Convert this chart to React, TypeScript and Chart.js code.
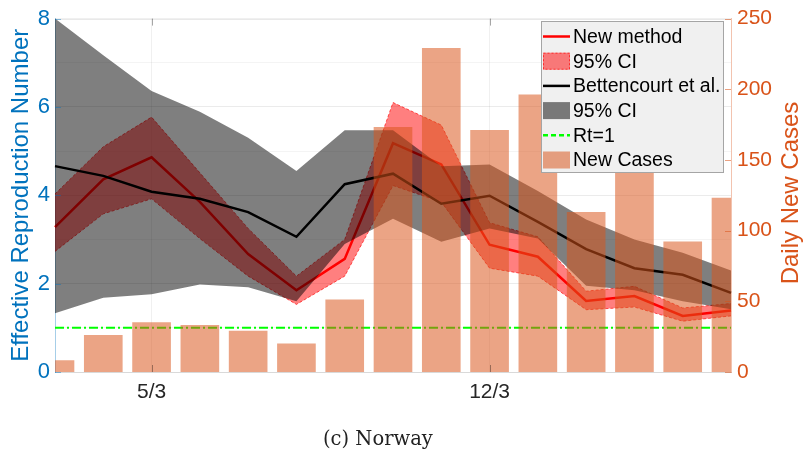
import React, { useEffect, useRef } from 'react';
import { Chart, registerables } from 'chart.js';

Chart.register(...registerables);

// ---- data ----
const dates = ['3/3', '4/3', '5/3', '6/3', '7/3', '8/3', '9/3', '10/3', '11/3', '12/3', '13/3', '14/3', '15/3', '16/3', '17/3'];
const shownDateTicks = ['5/3', '12/3'];
const newCases = [8, 26, 35, 33, 29, 20, 51, 173, 229, 171, 196, 113, 155, 92, 123];
const rNewMethod = [3.28, 4.36, 4.86, 3.85, 2.67, 1.85, 2.56, 5.18, 4.70, 2.88, 2.61, 1.61, 1.72, 1.27, 1.39];
const rNewUpper = [4.03, 5.10, 5.77, 4.51, 3.25, 2.17, 3.00, 6.10, 5.59, 3.38, 3.06, 1.83, 1.94, 1.45, 1.55];
const rNewLower = [2.73, 3.58, 3.92, 3.02, 2.17, 1.53, 2.17, 4.22, 3.85, 2.35, 2.17, 1.41, 1.47, 1.15, 1.27];
const rBettencourt = [4.66, 4.44, 4.08, 3.92, 3.62, 3.06, 4.25, 4.49, 3.81, 3.99, 3.40, 2.78, 2.35, 2.20, 1.79];
const rBettUpper = [8.00, 7.17, 6.36, 5.89, 5.30, 4.55, 5.47, 5.47, 4.66, 4.70, 4.10, 3.45, 3.00, 2.70, 2.30];
const rBettLower = [1.33, 1.68, 1.76, 1.98, 1.92, 1.60, 2.90, 3.47, 2.95, 3.25, 3.02, 1.95, 1.85, 1.60, 1.42];
const rtOne = [1, 1, 1, 1, 1, 1, 1, 1, 1, 1, 1, 1, 1, 1, 1];
const leftTickLabels = [0, 2, 4, 6, 8];
const rightTickLabels = [0, 50, 100, 150, 200, 250];

const FONT = '"Liberation Sans", Arial, Helvetica, sans-serif';
const BLUE = 'rgb(0,114,189)';
const ORANGE = 'rgb(217,83,25)';
const RED_FILL = 'rgba(255,0,0,0.5)';
const GRAY_FILL = 'rgba(0,0,0,0.5)';
const BAR_FILL = 'rgba(217,83,25,0.53)';
const GREEN = 'rgb(0,255,0)';

type LegendEntry = { ds: number; kind: 'line' | 'patch' | 'dashedPatch' | 'dashLine' };
const legendEntries: LegendEntry[] = [
  { ds: 0, kind: 'line' },
  { ds: 1, kind: 'dashedPatch' },
  { ds: 3, kind: 'line' },
  { ds: 4, kind: 'patch' },
  { ds: 6, kind: 'dashLine' },
  { ds: 7, kind: 'patch' },
];

const decorPlugin = {
  id: 'decor',
  afterDatasetsDraw(chart: any) {
    const { ctx, chartArea } = chart;
    const { left, right, top, bottom } = chartArea;
    const x = chart.scales.x;
    const y = chart.scales.y;
    const y1 = chart.scales.y1;
    ctx.save();
    // top border
    ctx.strokeStyle = 'rgba(0,0,0,0.15)';
    ctx.lineWidth = 1;
    ctx.beginPath();
    ctx.moveTo(left, top + 0.5);
    ctx.lineTo(right, top + 0.5);
    ctx.stroke();
    // x tick marks (bottom and top)
    ctx.strokeStyle = 'rgba(0,0,0,0.35)';
    dates.forEach((d, i) => {
      if (!shownDateTicks.includes(d)) return;
      const px = Math.round(x.getPixelForValue(i)) + 0.5;
      ctx.beginPath();
      ctx.moveTo(px, bottom);
      ctx.lineTo(px, bottom - 7);
      ctx.moveTo(px, top);
      ctx.lineTo(px, top + 7);
      ctx.stroke();
    });
    // left ticks
    ctx.strokeStyle = 'rgba(0,114,189,0.45)';
    leftTickLabels.forEach((v) => {
      const py = Math.round(y.getPixelForValue(v)) + 0.5;
      ctx.beginPath();
      ctx.moveTo(left, py);
      ctx.lineTo(left + 6, py);
      ctx.stroke();
    });
    // right ticks
    ctx.strokeStyle = 'rgba(217,83,25,0.55)';
    rightTickLabels.forEach((v) => {
      const py = Math.round(y1.getPixelForValue(v)) + 0.5;
      ctx.beginPath();
      ctx.moveTo(right, py);
      ctx.lineTo(right - 6, py);
      ctx.stroke();
    });
    ctx.restore();
  },
  afterDraw(chart: any) {
    const { ctx } = chart;
    ctx.save();
    // right axis title, reading bottom to top
    ctx.translate(791, 193);
    ctx.rotate(-Math.PI / 2);
    ctx.fillStyle = ORANGE;
    ctx.font = `24px ${FONT}`;
    ctx.textAlign = 'center';
    ctx.textBaseline = 'middle';
    ctx.fillText('Daily New Cases', 0, 0);
    ctx.restore();

    // legend box
    const bx = 541.5, by = 21.5, bw = 182, bh = 151;
    ctx.save();
    ctx.fillStyle = 'rgb(240,240,240)';
    ctx.fillRect(bx, by, bw, bh);
    ctx.strokeStyle = 'rgb(165,165,165)';
    ctx.lineWidth = 1;
    ctx.strokeRect(bx, by, bw, bh);
    const rowH = 24.7;
    const y0 = 36.5;
    const sx0 = 543, sx1 = 570;
    legendEntries.forEach((e, i) => {
      const ds = chart.data.datasets[e.ds];
      const cy = y0 + i * rowH;
      if (e.kind === 'line') {
        ctx.strokeStyle = ds.borderColor;
        ctx.lineWidth = 2.5;
        ctx.setLineDash([]);
        ctx.beginPath();
        ctx.moveTo(sx0, cy);
        ctx.lineTo(sx1, cy);
        ctx.stroke();
      } else if (e.kind === 'dashLine') {
        ctx.strokeStyle = ds.borderColor;
        ctx.lineWidth = 2.5;
        ctx.setLineDash([5, 3]);
        ctx.beginPath();
        ctx.moveTo(sx0, cy);
        ctx.lineTo(sx1, cy);
        ctx.stroke();
        ctx.setLineDash([]);
      } else {
        ctx.fillStyle = ds.backgroundColor;
        ctx.fillRect(sx0, cy - 8.5, sx1 - sx0, 17);
        if (e.kind === 'dashedPatch') {
          ctx.strokeStyle = 'rgba(255,0,0,0.8)';
          ctx.lineWidth = 0.8;
          ctx.setLineDash([2, 2]);
          ctx.strokeRect(sx0 + 0.5, cy - 8, sx1 - sx0 - 1, 16);
          ctx.setLineDash([]);
        }
      }
      ctx.fillStyle = '#000';
      ctx.font = `19.5px ${FONT}`;
      ctx.textAlign = 'left';
      ctx.textBaseline = 'middle';
      ctx.fillText(ds.label, 573, cy + 1);
    });
    ctx.restore();
  },
};

export default function App() {
  const canvasRef = useRef<HTMLCanvasElement | null>(null);

  useEffect(() => {
    const canvas = canvasRef.current;
    if (!canvas) return;
    const chart = new Chart(canvas, {
      type: 'bar',
      data: {
        labels: dates,
        datasets: [
          {
            type: 'line',
            label: 'New method',
            data: rNewMethod,
            borderColor: 'rgb(255,0,0)',
            borderWidth: 2.5,
            pointRadius: 0,
            fill: false,
            yAxisID: 'y',
            order: 6,
            tension: 0,
          } as any,
          {
            type: 'line',
            label: '95% CI',
            data: rNewUpper,
            borderColor: 'rgba(255,0,0,0.8)',
            borderWidth: 0.8,
            borderDash: [3, 2],
            backgroundColor: RED_FILL,
            pointRadius: 0,
            fill: '+1',
            yAxisID: 'y',
            order: 7,
          } as any,
          {
            type: 'line',
            label: '95% CI lower',
            data: rNewLower,
            borderColor: 'rgba(255,0,0,0.8)',
            borderWidth: 0.8,
            borderDash: [3, 2],
            backgroundColor: RED_FILL,
            pointRadius: 0,
            fill: false,
            yAxisID: 'y',
            order: 7,
          } as any,
          {
            type: 'line',
            label: 'Bettencourt et al.',
            data: rBettencourt,
            borderColor: 'rgb(0,0,0)',
            borderWidth: 2.5,
            pointRadius: 0,
            fill: false,
            yAxisID: 'y',
            order: 4,
          } as any,
          {
            type: 'line',
            label: '95% CI',
            data: rBettUpper,
            borderColor: 'rgba(0,0,0,0)',
            borderWidth: 0,
            backgroundColor: GRAY_FILL,
            pointRadius: 0,
            fill: '+1',
            yAxisID: 'y',
            order: 5,
          } as any,
          {
            type: 'line',
            label: '95% CI lower (B)',
            data: rBettLower,
            borderColor: 'rgba(0,0,0,0)',
            borderWidth: 0,
            backgroundColor: GRAY_FILL,
            pointRadius: 0,
            fill: false,
            yAxisID: 'y',
            order: 5,
          } as any,
          {
            type: 'line',
            label: 'Rt=1',
            data: rtOne,
            borderColor: GREEN,
            borderWidth: 2,
            borderDash: [9, 3, 2, 3],
            pointRadius: 0,
            fill: false,
            yAxisID: 'y',
            order: 3,
          } as any,
          {
            type: 'bar',
            label: 'New Cases',
            data: newCases,
            backgroundColor: BAR_FILL,
            borderWidth: 0,
            barThickness: 38,
            yAxisID: 'y1',
            order: 1,
          } as any,
        ],
      },
      options: {
        responsive: false,
        maintainAspectRatio: false,
        animation: false,
        devicePixelRatio: 1,
        layout: { padding: { top: 14, left: 0, right: 0, bottom: 0 } },
        plugins: {
          legend: { display: false },
          tooltip: { enabled: false },
          title: { display: false },
        },
        scales: {
          x: {
            type: 'category',
            offset: false,
            grid: {
              offset: false,
              drawTicks: false,
              color: (c: any) => (shownDateTicks.includes(dates[c.index]) ? 'rgba(0,0,0,0.06)' : 'rgba(0,0,0,0)'),
            },
            border: { color: 'rgba(0,0,0,0.15)' },
            ticks: {
              autoSkip: false,
              maxRotation: 0,
              minRotation: 0,
              padding: 8,
              color: 'rgb(38,38,38)',
              font: { family: FONT, size: 21 },
              callback: (_v: any, i: number) => (shownDateTicks.includes(dates[i]) ? dates[i] : ''),
            },
            afterFit: (s: any) => {
              s.height = 83;
            },
          },
          y: {
            position: 'left',
            min: 0,
            max: 8,
            ticks: {
              stepSize: 0.5,
              padding: 5,
              color: BLUE,
              font: { family: FONT, size: 22 },
              callback: (v: any) => (leftTickLabels.includes(v) ? String(v) : ''),
            },
            grid: {
              drawTicks: false,
              color: (c: any) => {
                const v = c.tick ? c.tick.value : 0;
                if (v === 0 || v === 8) return 'rgba(0,0,0,0)';
                return leftTickLabels.includes(v) ? 'rgba(0,0,0,0.08)' : 'rgba(0,0,0,0.045)';
              },
            },
            border: { color: 'rgba(0,114,189,0.35)' },
            title: {
              display: true,
              text: 'Effective Reproduction Number',
              color: BLUE,
              font: { family: FONT, size: 24 },
              padding: { top: 7, bottom: 0 },
            },
            afterFit: (s: any) => {
              s.width = 55;
            },
          },
          y1: {
            position: 'right',
            min: 0,
            max: 250,
            ticks: {
              stepSize: 50,
              padding: 6,
              color: ORANGE,
              font: { family: FONT, size: 21 },
              callback: (v: any) => (rightTickLabels.includes(v) ? String(v) : ''),
            },
            grid: { display: false, drawTicks: false },
            border: { color: 'rgba(217,83,25,0.35)' },
            afterFit: (s: any) => {
              s.width = 76;
            },
          },
        },
      } as any,
      plugins: [decorPlugin],
    });
    return () => {
      chart.destroy();
    };
  }, []);

  return (
    <div style={{ position: 'fixed', left: 0, top: 0, width: 807, height: 455, background: '#fff' }}>
      <canvas ref={canvasRef} width={807} height={455} style={{ display: 'block', width: 807, height: 455 }} />
      <div
        style={{
          position: 'absolute',
          left: 323,
          top: 428,
          fontFamily: '"DejaVu Serif", "Liberation Serif", serif',
          fontSize: 19.5,
          lineHeight: '22px',
          color: '#222',
          whiteSpace: 'nowrap',
        }}
      >
        (c) Norway
      </div>
    </div>
  );
}
